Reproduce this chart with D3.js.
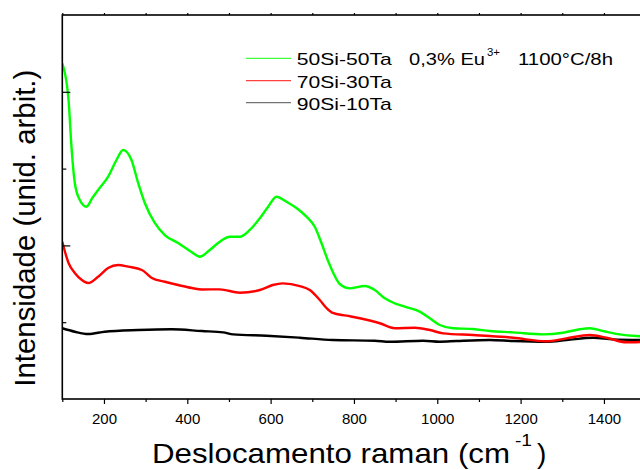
<!DOCTYPE html>
<html>
<head>
<meta charset="utf-8">
<script src="https://cdn.jsdelivr.net/npm/d3@7"></script>
<style>
  html, body { margin: 0; padding: 0; background: #fff; }
  svg { display: block; }
  text { font-family: "Liberation Sans", Arial, sans-serif; fill: #000; }
</style>
</head>
<body>
<svg id="chart" width="640" height="470"></svg>
<script>
// ---- data ----
const seriesNames = ["50Si-50Ta", "70Si-30Ta", "90Si-10Ta"];
const seriesColors = ["#00ff00", "#ff0000", "#000000"];

const shift50 = [100,115,122,130,142,158,172,186,210,230,246,266,282,298,322,346,378,410,430,454,478,502,526,550,574,594,614,638,662,686,706,722,737,749,766,790,826,850,874,898,922,958,982,1006,1038,1086,1126,1182,1254,1302,1342,1366,1398,1438,1478,1500];
const int50   = [4.371,3.893,3.285,2.813,2.591,2.504,2.617,2.721,2.895,3.112,3.242,3.112,2.813,2.552,2.292,2.135,2.031,1.914,1.853,1.940,2.048,2.113,2.113,2.201,2.353,2.504,2.634,2.569,2.487,2.374,2.243,2.031,1.810,1.658,1.497,1.441,1.471,1.419,1.311,1.246,1.202,1.137,1.051,0.964,0.921,0.911,0.885,0.868,0.842,0.863,0.908,0.921,0.885,0.842,0.820,0.814];

const shift70 = [100,115,130,147,162,186,210,234,258,291,315,346,378,411,435,478,526,574,605,629,670,694,718,734,749,782,814,862,898,946,982,1014,1086,1126,1182,1262,1310,1366,1406,1454,1500];
const int70   = [2.048,1.771,1.641,1.549,1.510,1.592,1.706,1.745,1.723,1.680,1.576,1.527,1.484,1.445,1.426,1.428,1.384,1.419,1.484,1.506,1.471,1.419,1.289,1.185,1.120,1.085,1.051,0.986,0.921,0.928,0.898,0.855,0.833,0.820,0.798,0.751,0.790,0.833,0.798,0.738,0.746];

const shift90 = [100,130,162,202,282,362,435,486,510,590,670,749,850,886,966,1006,1046,1126,1182,1262,1310,1374,1422,1500];
const int90   = [0.921,0.876,0.846,0.876,0.898,0.908,0.885,0.868,0.842,0.824,0.798,0.768,0.759,0.746,0.759,0.746,0.755,0.768,0.755,0.746,0.768,0.798,0.777,0.768];

const xMajorTicks = [200,400,600,800,1000,1200,1400];
const xMinorTicks = [100,300,500,700,900,1100,1300,1500];
const yMajorTicks = [2,4];
const yMinorTicks = [1,3];

// ---- layout ----
const svg = d3.select("#chart");
const pLeft = 62.3, pRight = 645.6, pTop = 15, pBottom = 399;

const x = d3.scaleLinear().domain([100, 1500]).range([pLeft, pRight]);
const y = d3.scaleLinear().domain([0, 5]).range([pBottom, pTop]);

const series = [
  { name: seriesNames[0], color: seriesColors[0], pts: shift50.map((s, i) => [s, int50[i]]) },
  { name: seriesNames[1], color: seriesColors[1], pts: shift70.map((s, i) => [s, int70[i]]) },
  { name: seriesNames[2], color: seriesColors[2], pts: shift90.map((s, i) => [s, int90[i]]) }
];

// clip
svg.append("defs").append("clipPath").attr("id", "plotclip")
  .append("rect").attr("x", pLeft).attr("y", pTop).attr("width", pRight - pLeft).attr("height", pBottom - pTop);

const line = d3.line().x(d => x(d[0])).y(d => y(d[1])).curve(d3.curveMonotoneX);

// draw black first, then red, then green on top
const g = svg.append("g").attr("clip-path", "url(#plotclip)");
[2, 1, 0].forEach(i => {
  g.append("path")
    .datum(series[i].pts)
    .attr("fill", "none")
    .attr("stroke", series[i].color)
    .attr("stroke-width", 2.4)
    .attr("stroke-linejoin", "round")
    .attr("d", line);
});

// ---- axes ----
function styleAxis(sel) {
  sel.select(".domain").remove();
  sel.selectAll(".tick line").attr("stroke", "#000").attr("stroke-width", 1.2);
}

// bottom major with labels
const axB = svg.append("g").attr("transform", `translate(0,${pBottom})`)
  .call(d3.axisBottom(x).tickValues(xMajorTicks).tickSize(5).tickSizeOuter(0).tickPadding(9).tickFormat(d3.format("d")));
styleAxis(axB);
axB.selectAll("text").attr("font-size", 15).attr("font-family", "Liberation Sans, Arial, sans-serif").attr("fill", "#000");

// bottom minor
const axBm = svg.append("g").attr("transform", `translate(0,${pBottom})`)
  .call(d3.axisBottom(x).tickValues(xMinorTicks).tickSize(3).tickSizeOuter(0).tickFormat(""));
styleAxis(axBm);

// top ticks
const axT = svg.append("g").attr("transform", `translate(0,${pTop})`)
  .call(d3.axisTop(x).tickValues(xMajorTicks.concat(xMinorTicks)).tickSize(2).tickSizeOuter(0).tickFormat(""));
styleAxis(axT);

// left ticks (inward)
const axL = svg.append("g").attr("transform", `translate(${pLeft},0)`)
  .call(d3.axisRight(y).tickValues(yMajorTicks).tickSize(8).tickSizeOuter(0).tickFormat(""));
styleAxis(axL);
const axLm = svg.append("g").attr("transform", `translate(${pLeft},0)`)
  .call(d3.axisRight(y).tickValues(yMinorTicks).tickSize(4).tickSizeOuter(0).tickFormat(""));
styleAxis(axLm);

// frame
svg.append("rect")
  .attr("x", pLeft).attr("y", pTop)
  .attr("width", pRight - pLeft).attr("height", pBottom - pTop)
  .attr("fill", "none").attr("stroke", "#000").attr("stroke-width", 1.6);

// ---- axis titles ----
svg.append("text").attr("x", 152).attr("y", 463)
  .attr("font-size", 28).attr("textLength", 358).attr("lengthAdjust", "spacingAndGlyphs")
  .text("Deslocamento raman (cm");
svg.append("text").attr("x", 515).attr("y", 446)
  .attr("font-size", 16).attr("textLength", 17).attr("lengthAdjust", "spacingAndGlyphs")
  .text("-1");
svg.append("text").attr("x", 537).attr("y", 463)
  .attr("font-size", 28)
  .text(")");

svg.append("text")
  .attr("transform", "translate(35,386.7) rotate(-90)")
  .attr("font-size", 30).attr("textLength", 317).attr("lengthAdjust", "spacingAndGlyphs")
  .text("Intensidade (unid. arbit.)");

// ---- legend ----
const legY = [58.3, 80.7, 102.7];
series.forEach((s, i) => {
  svg.append("line")
    .attr("x1", 246).attr("x2", 291)
    .attr("y1", legY[i]).attr("y2", legY[i])
    .attr("stroke", s.color).attr("stroke-width", 1.2)
    .attr("stroke-opacity", i === 2 ? 0.55 : 0.75);
  svg.append("text")
    .attr("x", 296.7).attr("y", legY[i] + 7)
    .attr("font-size", 17).attr("textLength", 95).attr("lengthAdjust", "spacingAndGlyphs")
    .text(s.name);
});
svg.append("text").attr("x", 409).attr("y", legY[0] + 7)
  .attr("font-size", 17).attr("textLength", 76).attr("lengthAdjust", "spacingAndGlyphs")
  .text("0,3% Eu");
svg.append("text").attr("x", 487).attr("y", legY[0] - 2)
  .attr("font-size", 10).attr("textLength", 13).attr("lengthAdjust", "spacingAndGlyphs")
  .text("3+");
svg.append("text").attr("x", 518).attr("y", legY[0] + 7)
  .attr("font-size", 17).attr("textLength", 95).attr("lengthAdjust", "spacingAndGlyphs")
  .text("1100°C/8h");
</script>
</body>
</html>
